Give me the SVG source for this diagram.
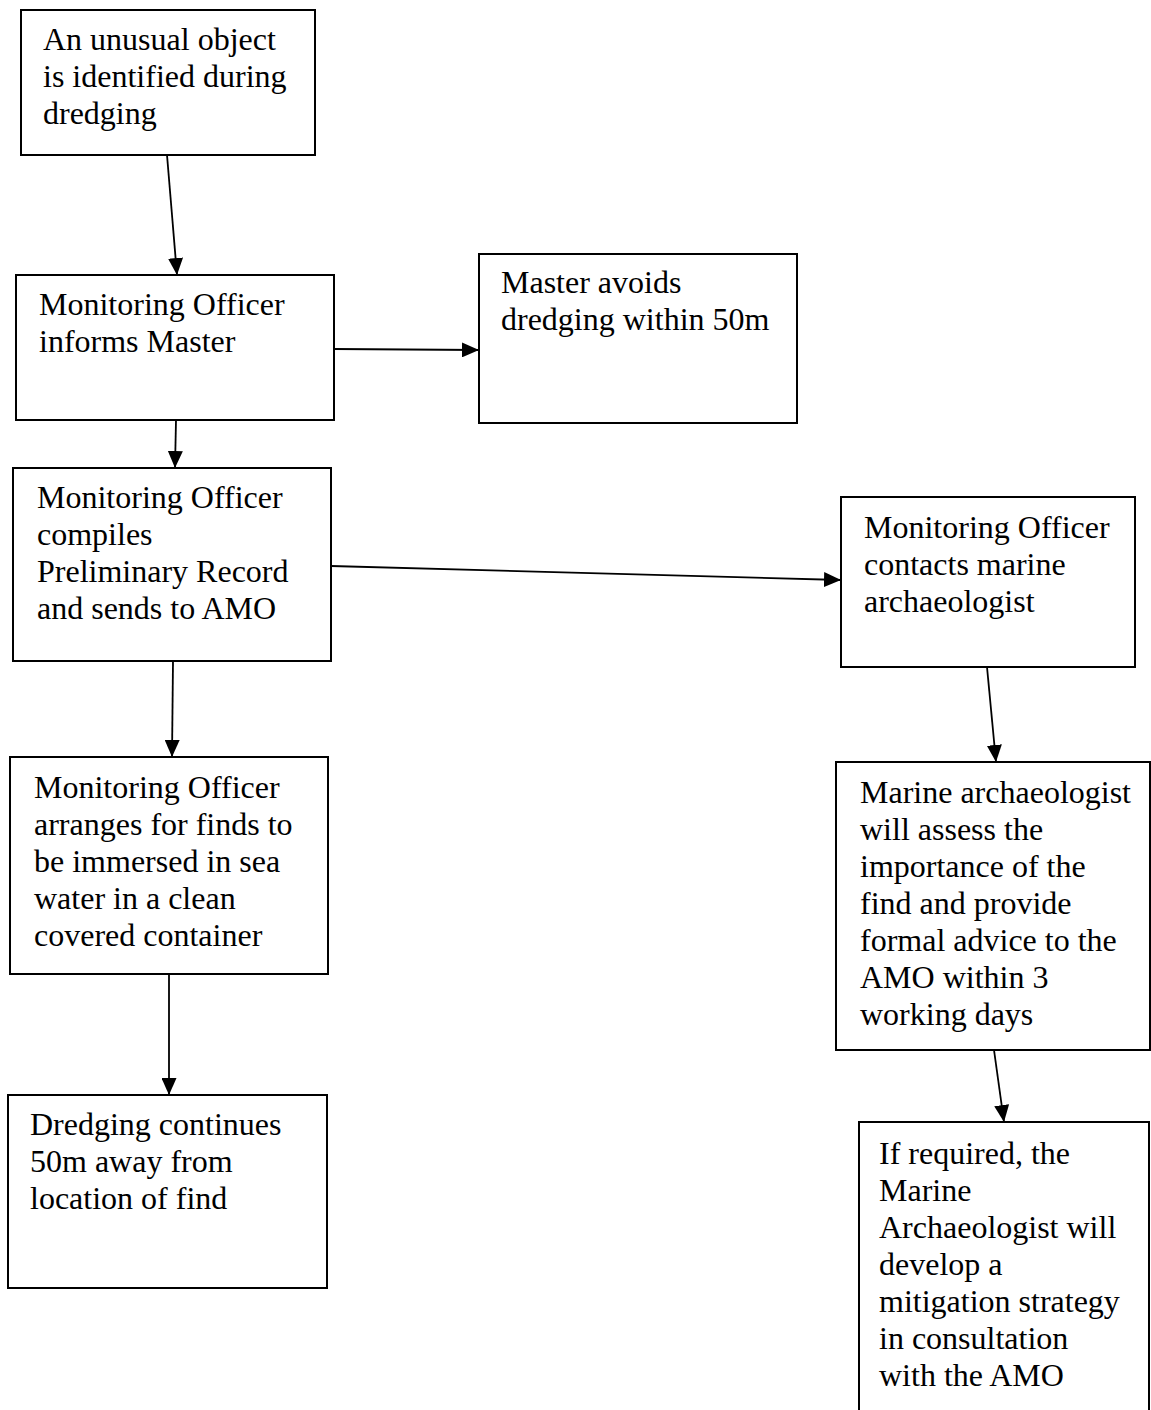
<svg xmlns="http://www.w3.org/2000/svg" width="1151" height="1410" viewBox="0 0 1151 1410">
<style>
.box{fill:#fff;stroke:#000;stroke-width:2}
.t{font-family:"Liberation Serif","Times New Roman",serif;font-size:32px;fill:#000}
.c{stroke:#000;stroke-width:1.8;fill:none}
</style>
<defs>
<marker id="ah" viewBox="0 0 17 15" refX="17" refY="7.5" markerWidth="17" markerHeight="15" markerUnits="userSpaceOnUse" orient="auto">
<path d="M0,0 L17,7.5 L0,15 Z" fill="#000"/>
</marker>
</defs>
<rect width="1151" height="1410" fill="#fff"/>
<g id="connectors">
<line class="c" x1="167" y1="155" x2="177" y2="275" marker-end="url(#ah)"/>
<line class="c" x1="334" y1="349" x2="479" y2="350" marker-end="url(#ah)"/>
<line class="c" x1="176" y1="420" x2="175" y2="468" marker-end="url(#ah)"/>
<line class="c" x1="331" y1="566" x2="841" y2="580" marker-end="url(#ah)"/>
<line class="c" x1="173" y1="661" x2="172" y2="757" marker-end="url(#ah)"/>
<line class="c" x1="169" y1="974" x2="169" y2="1095" marker-end="url(#ah)"/>
<line class="c" x1="987" y1="667" x2="996" y2="762" marker-end="url(#ah)"/>
<line class="c" x1="994" y1="1050" x2="1004" y2="1122" marker-end="url(#ah)"/>
</g>
<g id="n1">
<rect class="box" x="21" y="10" width="294" height="145"/>
<text class="t" x="43" y="50">An unusual object</text>
<text class="t" x="43" y="87">is identified during</text>
<text class="t" x="43" y="124">dredging</text>
</g>
<g id="n2">
<rect class="box" x="16" y="275" width="318" height="145"/>
<text class="t" x="39" y="315">Monitoring Officer</text>
<text class="t" x="39" y="352">informs Master</text>
</g>
<g id="n3">
<rect class="box" x="479" y="254" width="318" height="169"/>
<text class="t" x="501" y="293">Master avoids</text>
<text class="t" x="501" y="330">dredging within 50m</text>
</g>
<g id="n4">
<rect class="box" x="13" y="468" width="318" height="193"/>
<text class="t" x="37" y="508">Monitoring Officer</text>
<text class="t" x="37" y="545">compiles</text>
<text class="t" x="37" y="582">Preliminary Record</text>
<text class="t" x="37" y="619">and sends to AMO</text>
</g>
<g id="n5">
<rect class="box" x="841" y="497" width="294" height="170"/>
<text class="t" x="864" y="538">Monitoring Officer</text>
<text class="t" x="864" y="575">contacts marine</text>
<text class="t" x="864" y="612">archaeologist</text>
</g>
<g id="n6">
<rect class="box" x="10" y="757" width="318" height="217"/>
<text class="t" x="34" y="798">Monitoring Officer</text>
<text class="t" x="34" y="835">arranges for finds to</text>
<text class="t" x="34" y="872">be immersed in sea</text>
<text class="t" x="34" y="909">water in a clean</text>
<text class="t" x="34" y="946">covered container</text>
</g>
<g id="n7">
<rect class="box" x="836" y="762" width="314" height="288"/>
<text class="t" x="860" y="803">Marine archaeologist</text>
<text class="t" x="860" y="840">will assess the</text>
<text class="t" x="860" y="877">importance of the</text>
<text class="t" x="860" y="914">find and provide</text>
<text class="t" x="860" y="951">formal advice to the</text>
<text class="t" x="860" y="988">AMO within 3</text>
<text class="t" x="860" y="1025">working days</text>
</g>
<g id="n8">
<rect class="box" x="8" y="1095" width="319" height="193"/>
<text class="t" x="30" y="1135">Dredging continues</text>
<text class="t" x="30" y="1172">50m away from</text>
<text class="t" x="30" y="1209">location of find</text>
</g>
<g id="n9">
<rect class="box" x="859" y="1122" width="290" height="300"/>
<text class="t" x="879" y="1164">If required, the</text>
<text class="t" x="879" y="1201">Marine</text>
<text class="t" x="879" y="1238">Archaeologist will</text>
<text class="t" x="879" y="1275">develop a</text>
<text class="t" x="879" y="1312">mitigation strategy</text>
<text class="t" x="879" y="1349">in consultation</text>
<text class="t" x="879" y="1386">with the AMO</text>
</g>
</svg>
